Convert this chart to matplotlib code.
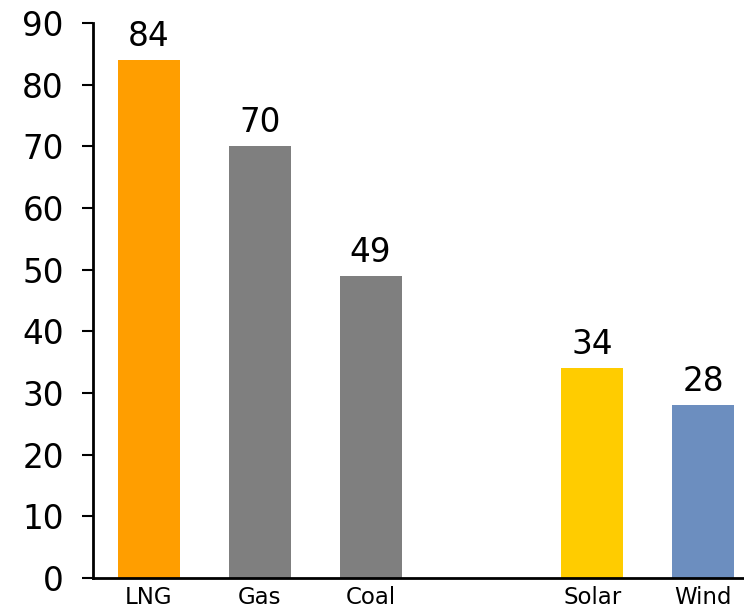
import matplotlib
matplotlib.use("Agg")
import matplotlib.pyplot as plt

# Values per source
categories = ["LNG", "Gas", "Coal", "Solar", "Wind"]
values = [84, 70, 49, 34, 28]
positions = [0, 1, 2, 4, 5]
colors = ["#FF9E00", "#7F7F7F", "#7F7F7F", "#FFCC00", "#6C8EBF"]
yticks = [0, 10, 20, 30, 40, 50, 60, 70, 80, 90]

plt.rcParams["font.family"] = ["DejaVu Sans"]

W, H = 744, 611
fig = plt.figure(figsize=(W / 100, H / 100), dpi=100)
left, right, top, bottom = 93, 744, 23, 578
ax = fig.add_axes([left / W, (H - bottom) / H, (right - left) / W, (bottom - top) / H])

bars = ax.bar(positions, values, width=0.56, color=colors, zorder=2)
for x, v in zip(positions, values):
    ax.annotate(str(v), (x, v), xytext=(0, 5), textcoords="offset points",
                ha="center", va="bottom", fontsize=23.5, color="black")

ax.set_xlim(-0.505, 5.37)
ax.set_ylim(0, 90)
ax.set_yticks(yticks)
ax.set_xticks(positions)
ax.set_xticklabels(categories)

for s in ["top", "right"]:
    ax.spines[s].set_visible(False)
ax.spines["left"].set_linewidth(2)
ax.spines["bottom"].set_linewidth(2)
ax.spines["left"].set_color("black")
ax.spines["bottom"].set_color("black")

ax.tick_params(axis="y", length=8, width=1.5, pad=13, labelsize=23.5, colors="black")
ax.tick_params(axis="x", length=0, pad=6, labelsize=16.5, colors="black")

fig.savefig("out.png", dpi=100)
